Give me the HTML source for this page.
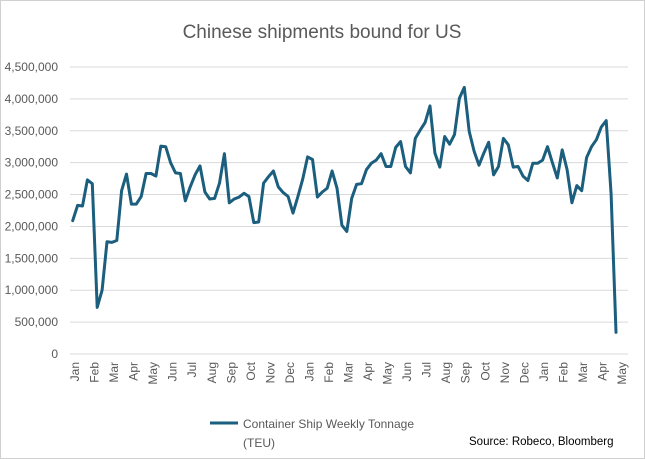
<!DOCTYPE html>
<html><head><meta charset="utf-8"><style>
body{margin:0;background:#fff;}
svg{display:block;font-family:"Liberation Sans",sans-serif;}
</style></head><body>
<svg id="chart" width="645" height="459" viewBox="0 0 645 459">
<rect x="0.5" y="0.5" width="644" height="458" fill="#fff" stroke="#d0d0d0"/>
<text x="322" y="38" text-anchor="middle" font-size="19" fill="#595959">Chinese shipments bound for US</text>
<g id="grid"></g><g id="ylabels"></g><g id="xlabels"></g><g id="series"></g>
<line x1="210" y1="423" x2="238" y2="423" stroke="#1b5e7d" stroke-width="3"/>
<text x="243" y="428" font-size="12" fill="#595959">Container Ship Weekly Tonnage</text>
<text x="243" y="447" font-size="12" fill="#595959">(TEU)</text>
<text x="469" y="445" font-size="11.5" fill="#000">Source: Robeco, Bloomberg</text>
</svg>
<script>
const yTicks=[0,500000,1000000,1500000,2000000,2500000,3000000,3500000,4000000,4500000];
const months=["Jan","Feb","Mar","Apr","May","Jun","Jul","Aug","Sep","Oct","Nov","Dec","Jan","Feb","Mar","Apr","May","Jun","Jul","Aug","Sep","Oct","Nov","Dec","Jan","Feb","Mar","Apr","May"];
const values=[2.09,2.33,2.32,2.73,2.67,0.73,1.0,1.76,1.75,1.78,2.56,2.82,2.35,2.35,2.47,2.83,2.83,2.79,3.26,3.25,3.0,2.84,2.83,2.40,2.62,2.81,2.95,2.54,2.43,2.44,2.68,3.14,2.37,2.43,2.46,2.52,2.47,2.06,2.07,2.68,2.78,2.87,2.62,2.53,2.47,2.21,2.47,2.74,3.09,3.05,2.46,2.54,2.60,2.87,2.60,2.02,1.92,2.44,2.66,2.67,2.89,2.99,3.04,3.14,2.94,2.94,3.24,3.33,2.94,2.84,3.38,3.51,3.63,3.89,3.15,2.93,3.41,3.29,3.44,4.01,4.18,3.49,3.18,2.96,3.15,3.32,2.81,2.94,3.38,3.28,2.93,2.94,2.79,2.72,2.99,2.99,3.04,3.25,3.0,2.76,3.20,2.89,2.37,2.64,2.56,3.08,3.25,3.36,3.56,3.66,2.51,0.34].map(v=>v*1e6);
const NS="http://www.w3.org/2000/svg";
const y0=354,y1=67,yMax=4500000,xL=70,xR=628;
const yScale=v=>y0-(v/yMax)*(y0-y1);
const xMonth=i=>75+i*(622-75)/(months.length-1);
const xWeek=i=>72.7+i*(616-72.7)/(values.length-1);
function mk(t,a){const e=document.createElementNS(NS,t);for(const k in a)e.setAttribute(k,a[k]);return e;}
const grid=document.getElementById('grid'),yl=document.getElementById('ylabels'),xl=document.getElementById('xlabels'),sr=document.getElementById('series');
yTicks.forEach(t=>{
 const y=yScale(t);
 const l=mk('line',{x1:xL,x2:xR,y1:y,y2:y,stroke:'#d9d9d9','stroke-width':1});
 
 
 grid.appendChild(l);
 const tx=mk('text',{x:58,y:y+4,'text-anchor':'end','font-size':12,fill:'#595959'});
 
 
 tx.textContent=t.toLocaleString('en-US');
 yl.appendChild(tx);
});
months.forEach((m,i)=>{
 const x=xMonth(i);
 const tx=mk('text',{x:0,y:0,'text-anchor':'end','font-size':12,fill:'#595959',transform:`translate(${x+4},362) rotate(-90)`});
 
 
 tx.textContent=m;
 xl.appendChild(tx);
});
const pts=values.map((v,i)=>xWeek(i).toFixed(1)+','+yScale(v).toFixed(1)).join(' ');
const pl=mk('polyline',{points:pts,fill:'none',stroke:'#1b5e7d','stroke-width':3,'stroke-linejoin':'round','stroke-linecap':'round'});


sr.appendChild(pl);
</script>
</body></html>
